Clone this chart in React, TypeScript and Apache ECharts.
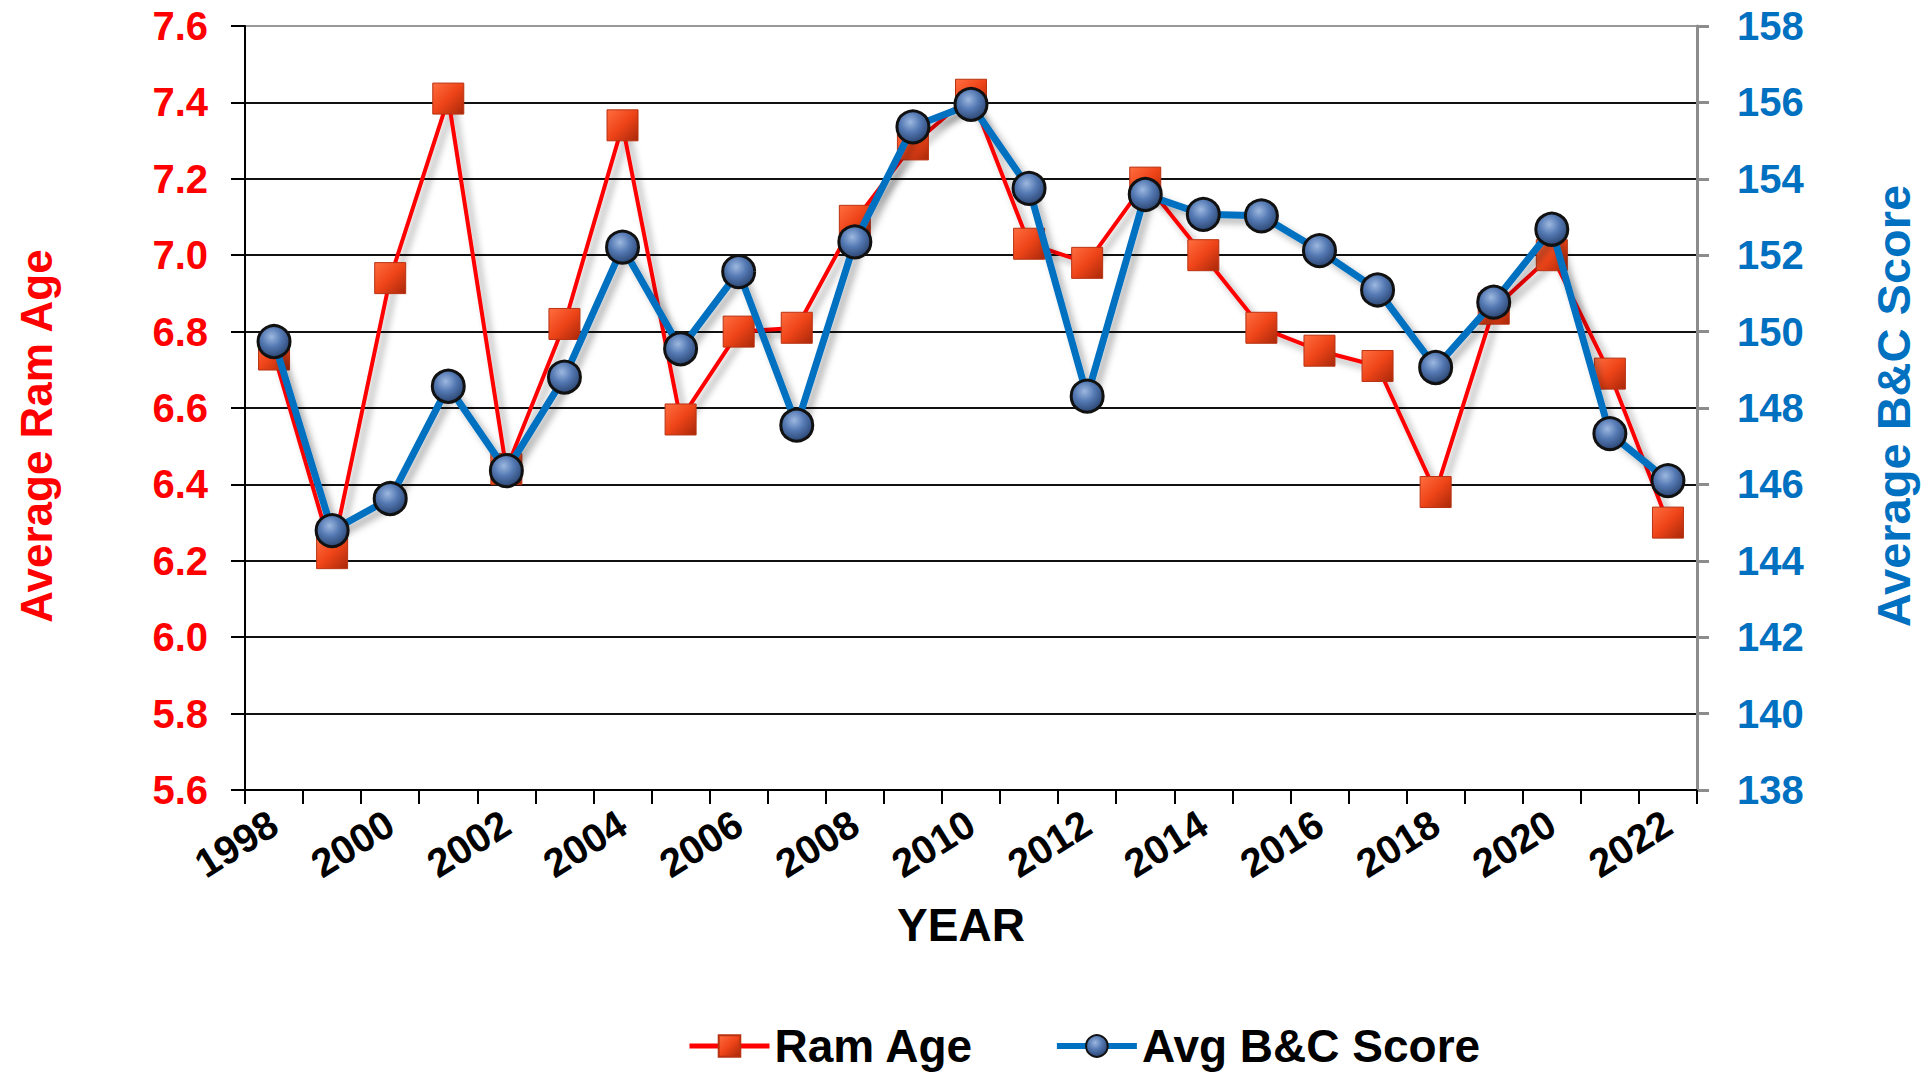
import React, { useEffect, useRef } from "react";
import * as echarts from "echarts";

const years = [
  "1998", "1999", "2000", "2001", "2002", "2003", "2004", "2005", "2006", "2007",
  "2008", "2009", "2010", "2011", "2012", "2013", "2014", "2015", "2016", "2017",
  "2018", "2019", "2020", "2021", "2022",
];
const ramAge = [
  6.74, 6.22, 6.94, 7.41, 6.44, 6.82, 7.34, 6.57, 6.8, 6.81,
  7.09, 7.29, 7.42, 7.03, 6.98, 7.19, 7.0, 6.81, 6.75, 6.71,
  6.38, 6.86, 7.0, 6.69, 6.3,
];
const bcScore = [
  149.74, 144.79, 145.63, 148.57, 146.36, 148.81, 152.21, 149.55, 151.57, 147.55,
  152.35, 155.36, 155.95, 153.75, 148.31, 153.59, 153.07, 153.03, 152.12, 151.09,
  149.06, 150.77, 152.68, 147.33, 146.1,
];
const ageTicks = [5.6, 5.8, 6.0, 6.2, 6.4, 6.6, 6.8, 7.0, 7.2, 7.4, 7.6];
const scoreTicks = [138, 140, 142, 144, 146, 148, 150, 152, 154, 156, 158];

const FONT = "'Liberation Sans', Arial, sans-serif";
const RED = "#FF0000";
const BLUE = "#0070C0";

export default function App() {
  const ref = useRef<HTMLDivElement>(null);

  useEffect(() => {
    if (!ref.current) return;
    const chart = echarts.init(ref.current, null, { renderer: "svg" });

    const squareFill = {
      type: "linear",
      x: 0, y: 0, x2: 1, y2: 1,
      colorStops: [
        { offset: 0, color: "#FF6E40" },
        { offset: 0.5, color: "#EE4418" },
        { offset: 1, color: "#A8280A" },
      ],
    };
    const sphereFill = {
      type: "radial",
      x: 0.42, y: 0.35, r: 0.7,
      colorStops: [
        { offset: 0, color: "#9DB8E0" },
        { offset: 0.45, color: "#5479B3" },
        { offset: 1, color: "#263F6A" },
      ],
    };

    chart.setOption({
      animation: false,
      backgroundColor: "#ffffff",
      textStyle: { fontFamily: FONT, fontWeight: "bold" },
      grid: {
        left: 245,
        right: 234,
        top: 26,
        bottom: 283,
        show: true,
        borderColor: "#999999",
        borderWidth: 2,
        backgroundColor: "transparent",
      },
      legend: {
        left: 682,
        top: 1018,
        itemWidth: 80,
        itemHeight: 27,
        itemGap: 80,
        textStyle: { fontFamily: FONT, fontWeight: "bold", fontSize: 46, color: "#000" },
        data: [
          { name: "Ram Age", lineStyle: { width: 5 } },
          { name: "Avg B&C Score", lineStyle: { width: 6 } },
        ],
      },
      xAxis: {
        type: "category",
        data: years,
        boundaryGap: true,
        name: "YEAR",
        nameLocation: "middle",
        nameGap: 112,
        nameTextStyle: {
          fontFamily: FONT,
          fontWeight: "bold",
          fontSize: 46,
          color: "#000",
          padding: [0, 20, 0, 0],
        },
        axisLine: { lineStyle: { color: "#000", width: 2 } },
        axisTick: { show: true, interval: 0, alignWithLabel: false, length: 14, lineStyle: { color: "#000", width: 2 } },
        axisLabel: {
          interval: 1,
          rotate: 32,
          margin: 30,
          fontFamily: FONT,
          fontWeight: "bold",
          fontSize: 40,
          color: "#000",
        },
        splitLine: { show: false },
      },
      yAxis: [
        {
          type: "value",
          min: ageTicks[0],
          max: ageTicks[ageTicks.length - 1],
          interval: 0.2,
          position: "left",
          axisLine: { show: true, lineStyle: { color: "#000", width: 2 } },
          axisTick: { show: true, length: 14, lineStyle: { color: "#000", width: 2 } },
          axisLabel: {
            margin: 37,
            fontFamily: FONT,
            fontWeight: "bold",
            fontSize: 40,
            color: RED,
            formatter: (v: number) => v.toFixed(1),
          },
          splitLine: { show: true, showMaxLine: false, lineStyle: { color: "#111", width: 2 } },
        },
        {
          type: "value",
          min: scoreTicks[0],
          max: scoreTicks[scoreTicks.length - 1],
          interval: 2,
          position: "right",
          axisLine: { show: true, lineStyle: { color: "#8C8C8C", width: 3 } },
          axisTick: { show: true, length: 12, lineStyle: { color: "#8C8C8C", width: 3 } },
          axisLabel: {
            margin: 40,
            fontFamily: FONT,
            fontWeight: "bold",
            fontSize: 40,
            color: BLUE,
          },
          splitLine: { show: false },
        },
      ],
      graphic: [
        {
          type: "text",
          x: 36,
          y: 436,
          rotation: Math.PI / 2,
          style: {
            text: "Average Ram Age",
            fill: RED,
            font: `bold 44px ${FONT}`,
            textAlign: "center",
            textVerticalAlign: "middle",
          },
        },
        {
          type: "text",
          x: 1893,
          y: 406,
          rotation: Math.PI / 2,
          style: {
            text: "Average B&C Score",
            fill: BLUE,
            font: `bold 47px ${FONT}`,
            textAlign: "center",
            textVerticalAlign: "middle",
          },
        },
      ],
      series: [
        {
          name: "Ram Age",
          type: "line",
          yAxisIndex: 0,
          data: ramAge,
          symbol: "rect",
          symbolSize: 31,
          itemStyle: { color: squareFill, borderColor: "#B83212", borderWidth: 1 },
          lineStyle: {
            color: RED,
            width: 4,
            shadowColor: "rgba(0,0,0,0.35)",
            shadowBlur: 7,
            shadowOffsetX: 5,
            shadowOffsetY: 5,
          },
          z: 2,
        },
        {
          name: "Avg B&C Score",
          type: "line",
          yAxisIndex: 1,
          data: bcScore,
          symbol: "circle",
          symbolSize: 32,
          itemStyle: { color: sphereFill, borderColor: "#111111", borderWidth: 3 },
          lineStyle: {
            color: BLUE,
            width: 7,
            shadowColor: "rgba(0,0,0,0.3)",
            shadowBlur: 7,
            shadowOffsetX: 5,
            shadowOffsetY: 5,
          },
          z: 3,
        },
      ],
    });

    return () => chart.dispose();
  }, []);

  return (
    <div
      ref={ref}
      style={{ position: "fixed", left: 0, top: 0, width: 1931, height: 1073 }}
    />
  );
}
